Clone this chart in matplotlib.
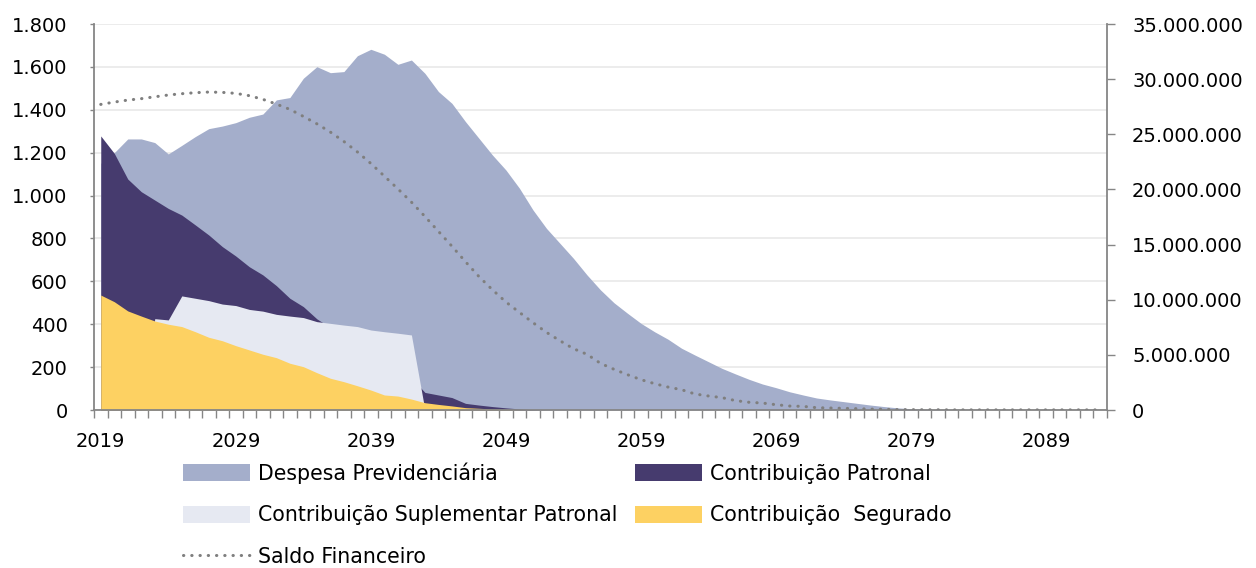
import numpy as np
import matplotlib.pyplot as plt
from matplotlib.ticker import FuncFormatter

plt.rcParams['font.family'] = ['DejaVu Sans']

# anos da projecao
anos = list(range(2019, 2094))

despesa = [1150, 1200, 1264, 1264, 1247, 1194, 1234, 1275, 1312, 1324,
           1340, 1365, 1380, 1446, 1457, 1547, 1601, 1573, 1578, 1652,
           1682, 1659, 1612, 1632, 1570, 1485, 1430, 1345, 1267, 1189,
           1119, 1034, 933, 847, 777, 707, 630, 560, 500, 451,
           404, 365, 330, 288, 256, 225, 194, 168, 143, 121,
           104, 85, 70, 56, 47, 39, 31, 23, 16, 10,
           6, 4, 2, 1, 0, 0, 0, 0, 0, 0,
           0, 0, 0, 0, 0]

patronal = [1278, 1197, 1077, 1018, 979, 940, 909, 863, 816, 762,
            718, 668, 630, 580, 521, 482, 425, 385, 355, 325,
            295, 260, 225, 150, 82, 70, 58, 31, 23, 16,
            10, 5, 2, 0, 0, 0, 0, 0, 0, 0,
            0, 0, 0, 0, 0, 0, 0, 0, 0, 0,
            0, 0, 0, 0, 0, 0, 0, 0, 0, 0,
            0, 0, 0, 0, 0, 0, 0, 0, 0, 0,
            0, 0, 0, 0, 0]

suplementar = [0, 0, 0, 0, 426, 420, 532, 521, 510, 494,
               487, 469, 461, 446, 438, 431, 412, 404, 396, 389,
               373, 365, 358, 350, 0, 0, 0, 0, 0, 0,
               0, 0, 0, 0, 0, 0, 0, 0, 0, 0,
               0, 0, 0, 0, 0, 0, 0, 0, 0, 0,
               0, 0, 0, 0, 0, 0, 0, 0, 0, 0,
               0, 0, 0, 0, 0, 0, 0, 0, 0, 0,
               0, 0, 0, 0, 0]

segurado = [536, 505, 462, 438, 415, 400, 389, 365, 339, 323,
            300, 280, 260, 244, 218, 202, 174, 148, 132, 113,
            93, 70, 65, 51, 34, 26, 19, 11, 8, 5,
            3, 1, 0, 0, 0, 0, 0, 0, 0, 0,
            0, 0, 0, 0, 0, 0, 0, 0, 0, 0,
            0, 0, 0, 0, 0, 0, 0, 0, 0, 0,
            0, 0, 0, 0, 0, 0, 0, 0, 0, 0,
            0, 0, 0, 0, 0]

saldo = [27710000, 27920000, 28100000, 28230000, 28400000, 28560000, 28680000, 28770000, 28830000, 28800000,
         28710000, 28500000, 28170000, 27740000, 27260000, 26620000, 25950000, 25200000, 24350000, 23400000,
         22350000, 21200000, 20050000, 18850000, 17550000, 16200000, 14850000, 13450000, 12100000, 10900000,
         9790000, 8850000, 7920000, 7040000, 6280000, 5560000, 5050000, 4230000, 3690000, 3200000,
         2750000, 2390000, 2080000, 1840000, 1450000, 1270000, 1120000, 850000, 700000, 630000,
         480000, 360000, 330000, 210000, 180000, 150000, 120000, 80000, 60000, 40000,
         30000, 20000, 20000, 10000, 10000, 10000, 10000, 10000, 10000, 10000,
         10000, 10000, 10000, 10000, 10000]

cinza = '#868686'

fig = plt.figure(figsize=(12.56, 5.68), dpi=100)
ax = fig.add_axes([94/1256, 1-410/568, (1107-94)/1256, (410-24)/568])
x = np.arange(len(anos))

h1 = ax.fill_between(x, despesa, color='#A4AECB', lw=0, label='Despesa Previdenciária')
h2 = ax.fill_between(x, patronal, color='#463B6E', lw=0, label='Contribuição Patronal')
h3 = ax.fill_between(x, suplementar, color='#E6E9F2', lw=0, label='Contribuição Suplementar Patronal')
h4 = ax.fill_between(x, segurado, color='#FDD162', lw=0, label='Contribuição  Segurado')

ax.set_xlim(-0.5, len(anos) - 0.5)
ax.set_ylim(0, 1800)
ax.set_yticks(range(0, 1801, 200))
ax.yaxis.set_major_formatter(FuncFormatter(lambda v, p: f'{int(v):,}'.replace(',', '.')))
ax.set_axisbelow(True)
ax.yaxis.grid(True, color='#EBEBEB', lw=1.3)

ax.set_xticks(x[::10])
ax.set_xticklabels([str(a) for a in anos[::10]])
ax.set_xticks(np.arange(-0.5, len(anos), 1), minor=True)
ax.tick_params(axis='x', which='major', length=0, pad=16, labelsize=14)
ax.tick_params(axis='x', which='minor', length=6, width=1, color=cinza, direction='out')
ax.tick_params(axis='y', length=3, width=1, color=cinza, pad=16, labelsize=14)

for s in ['top', 'right']:
    ax.spines[s].set_visible(False)
for s in ['left', 'bottom']:
    ax.spines[s].set_color(cinza)
    ax.spines[s].set_linewidth(1.3)

ax2 = ax.twinx()
h5, = ax2.plot(x, saldo, color='#7F7F7F', lw=2.2, linestyle=(0, (0.1, 2.6)),
               dash_capstyle='round', label='Saldo Financeiro')
ax2.set_ylim(0, 35000000)
ax2.set_yticks(range(0, 35000001, 5000000))
ax2.yaxis.set_major_formatter(FuncFormatter(lambda v, p: f'{int(v):,}'.replace(',', '.')))
ax2.tick_params(axis='y', length=6, width=1, color=cinza, pad=12, labelsize=14)
for s in ['top', 'left', 'bottom']:
    ax2.spines[s].set_visible(False)
ax2.spines['right'].set_color(cinza)
ax2.spines['right'].set_linewidth(1.3)

fig.legend([h1, h3, h5, h2, h4],
           [h.get_label() for h in [h1, h3, h5, h2, h4]],
           ncol=2, loc='upper left', bbox_to_anchor=(183/1256, 1-462/568),
           frameon=False, fontsize=14.8, handlelength=3.26, handleheight=0.88,
           handletextpad=0.39, columnspacing=0.85, labelspacing=1.06,
           borderpad=0, borderaxespad=0)

fig.savefig('out.png', dpi=100)
